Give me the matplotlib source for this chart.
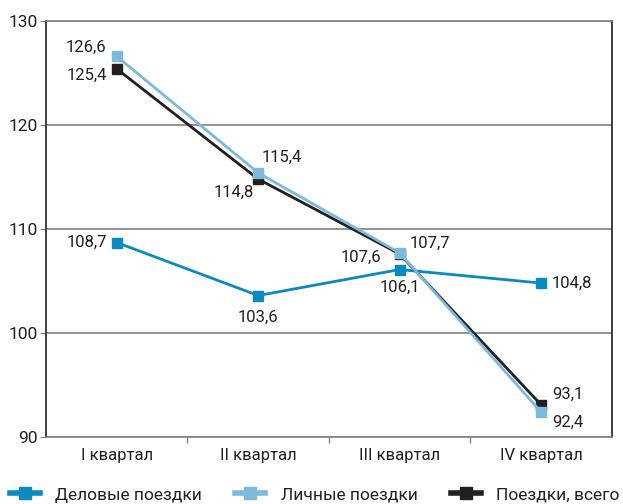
import matplotlib
matplotlib.use("Agg")
import matplotlib.pyplot as plt
from matplotlib.ticker import FixedLocator
from matplotlib.lines import Line2D

plt.rcParams['font.family'] = ['Roboto', 'DejaVu Sans']

categories = ["I квартал", "II квартал", "III квартал", "IV квартал"]
business = [108.7, 103.6, 106.1, 104.8]
personal = [126.6, 115.4, 107.7, 92.4]
total = [125.4, 114.8, 107.6, 93.1]
series_names = ["Деловые поездки", "Личные поездки", "Поездки, всего"]

c_bus = "#0a8bbf"
c_per = "#7cb9dd"
c_tot = "#231f20"

fig = plt.figure(figsize=(6.23, 5.04), dpi=100)
ax = fig.add_axes([0.0738, 0.133, 0.9082, 0.8253])

x = list(range(len(categories)))
ax.plot(x, business, color=c_bus, lw=2, marker='s', ms=7.5, zorder=3)
ax.plot(x, total, color=c_tot, lw=2, marker='s', ms=7.5, zorder=4)
ax.plot(x, personal, color=c_per, lw=2, marker='s', ms=7.5, zorder=5)

ax.set_xlim(-0.5, 3.5)
ax.set_ylim(90, 130)
ax.set_yticks([90, 100, 110, 120, 130])
ax.set_xticks(x)
ax.set_xticklabels(categories)
ax.xaxis.set_minor_locator(FixedLocator([0.5, 1.5, 2.5]))
ax.tick_params(axis='x', which='major', length=0, labelsize=12, pad=8, colors='#231f20')
ax.tick_params(axis='x', which='minor', length=4, color='#808080', width=1)
ax.tick_params(axis='y', length=4, labelsize=12.5, color='#808080', labelcolor='#231f20', pad=2)
ax.grid(axis='y', color='#808080', lw=1.2)
ax.set_axisbelow(True)
for s in ['left', 'right']:
    ax.spines[s].set_color('#231f20')
    ax.spines[s].set_linewidth(1.2)
for s in ['top', 'bottom']:
    ax.spines[s].set_color('#808080')
    ax.spines[s].set_linewidth(1.2)

def fmt(v):
    return f"{v:.1f}".replace('.', ',')

fs = 12
tc = '#231f20'
# offsets in pixels (dx, dy up), horizontal alignment
bus_off = [(-10, 0, 'right'), (0, -22, 'center'), (0, -18, 'center'), (11, 0, 'left')]
per_off = [(-10, 9, 'right'), (3, 16, 'left'), (10, 10, 'left'), (11, -10, 'left')]
tot_off = [(-10, -6, 'right'), (-4, -13, 'right'), (-18, -3, 'right'), (11, 10, 'left')]
for vals, offs in [(business, bus_off), (personal, per_off), (total, tot_off)]:
    for xi, v, (dx, dy, ha) in zip(x, vals, offs):
        ax.annotate(fmt(v), (xi, v), xytext=(dx * 0.72, dy * 0.72), textcoords='offset points',
                    ha=ha, va='center', fontsize=fs, color=tc)

handles = [Line2D([], [], color=c, lw=4, marker='s', ms=9) for c in (c_bus, c_per, c_tot)]
leg = fig.legend(handles, series_names,
                 loc='center left', bbox_to_anchor=(0.016, 0.018), ncol=3, frameon=False,
                 fontsize=12.5, handlelength=1.72, columnspacing=1.9, handletextpad=0.9,
                 labelcolor=tc, borderaxespad=0, borderpad=0)

fig.savefig("out.png", dpi=100)
